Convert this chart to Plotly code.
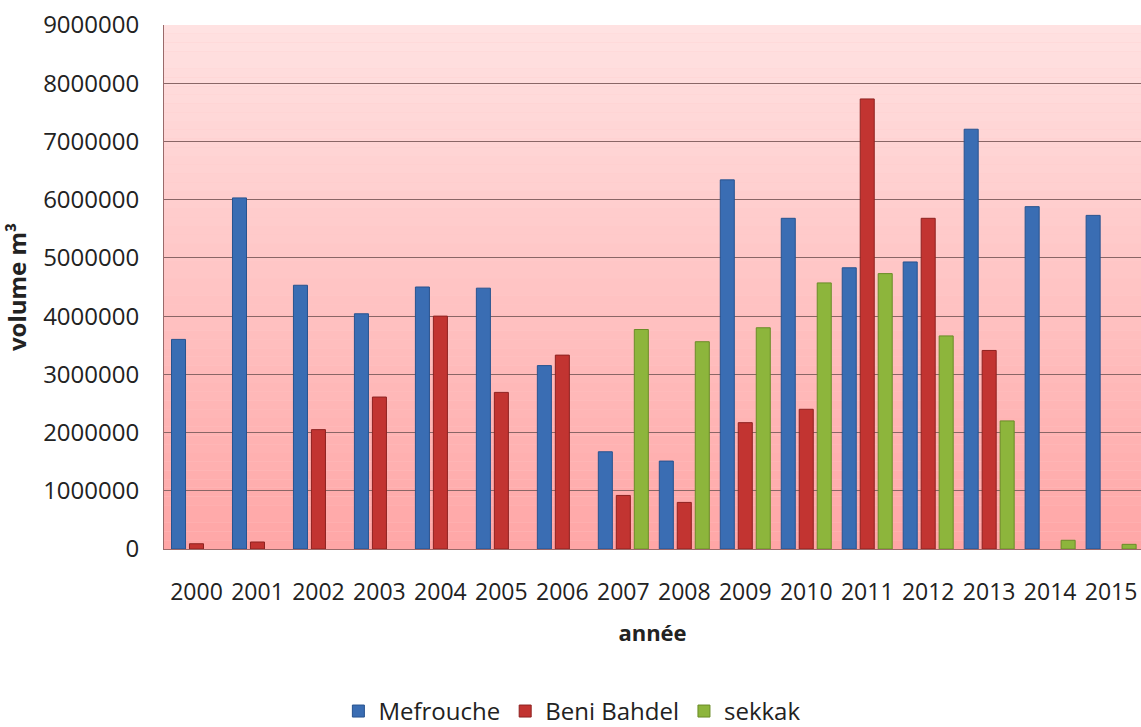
import plotly.graph_objects as go

years = ["2000", "2001", "2002", "2003", "2004", "2005", "2006", "2007",
         "2008", "2009", "2010", "2011", "2012", "2013", "2014", "2015"]

mefrouche = [3600000, 6030000, 4530000, 4040000, 4500000, 4480000, 3150000, 1670000,
             1510000, 6340000, 5680000, 4830000, 4930000, 7210000, 5880000, 5730000]
beni_bahdel = [90000, 120000, 2050000, 2610000, 4000000, 2690000, 3330000, 920000,
               800000, 2170000, 2400000, 7730000, 5680000, 3410000, None, None]
sekkak = [None, None, None, None, None, None, None, 3770000,
          3560000, 3800000, 4570000, 4730000, 3660000, 2200000, 150000, 80000]

series = [
    ("Mefrouche", mefrouche, "#3A6DB3", "#27538F"),
    ("Beni Bahdel", beni_bahdel, "#C23431", "#8E2220"),
    ("sekkak", sekkak, "#8DB53C", "#6A8C27"),
]

FONT = "Open Sans, Liberation Sans, sans-serif"
TXT = "#222222"

fig = go.Figure()
for name, vals, col, edge in series:
    fig.add_trace(go.Bar(
        x=years, y=vals, name=name,
        marker=dict(color=col, line=dict(color=edge, width=1)),
    ))

# vertical pink gradient background
n = 60
top = (255, 226, 226)
bot = (255, 166, 166)
shapes = []
for i in range(n):
    t = (i + 0.5) / n
    c = tuple(round(bot[k] + (top[k] - bot[k]) * t) for k in range(3))
    shapes.append(dict(
        type="rect", xref="x domain", yref="y domain",
        x0=0, x1=1, y0=i / n, y1=(i + 1) / n,
        fillcolor="rgb(%d,%d,%d)" % c, line=dict(width=0), layer="below",
    ))

fig.update_layout(
    width=1141, height=727,
    margin=dict(l=164, r=0, t=25, b=178, autoexpand=False),
    paper_bgcolor="white",
    plot_bgcolor="#FFC8C8",
    barmode="group",
    bargap=0.115,
    bargroupgap=0.22,
    shapes=shapes,
    font=dict(family=FONT, color=TXT),
    showlegend=True,
    legend=dict(
        orientation="h", x=0.418, xanchor="center",
        y=-0.31, yanchor="middle",
        font=dict(size=24, family=FONT, color=TXT),
        traceorder="normal",
    ),
    xaxis=dict(
        type="category",
        range=[-0.533, 15.49],
        showgrid=False, zeroline=False,
        showline=True, linecolor="#9A6A6A", linewidth=1,
        tickfont=dict(size=23, family=FONT, color=TXT),
        tickangle=0,
        ticks="", ticklabelstandoff=22,
        ticklabeloverflow="allow",
        title=dict(text="<b>année</b>", font=dict(size=22, family=FONT, color=TXT),
                   standoff=20),
        automargin=False,
    ),
    yaxis=dict(
        range=[0, 9000000], dtick=1000000, tickformat="d",
        showgrid=True, gridcolor="#8A6666", gridwidth=1,
        zeroline=False,
        showline=True, linecolor="#9A6A6A", linewidth=1, mirror=True,
        tickfont=dict(size=24, family=FONT, color=TXT),
        ticks="", ticklabelstandoff=19,
        ticklabeloverflow="allow",
        title=dict(text="<b>volume m³</b>", font=dict(size=24, family=FONT, color=TXT),
                   standoff=10),
        automargin=False,
    ),
)

fig.write_html("out.html", config={"displayModeBar": False},
               post_script="document.body.style.margin='0';")
